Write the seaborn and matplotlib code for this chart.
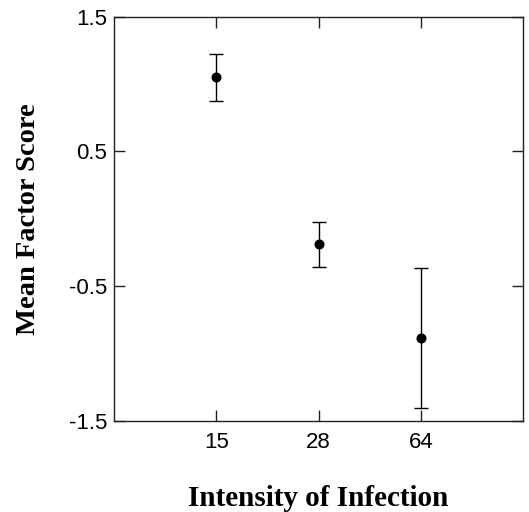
import matplotlib
matplotlib.use("Agg")
import matplotlib.pyplot as plt
import seaborn as sns
import pandas as pd

# --- data ---
intensity = ["15", "28", "64"]
mean_score = [1.05, -0.19, -0.885]
err_low = [0.175, 0.165, 0.515]
err_high = [0.175, 0.17, 0.52]

sns.set_style("ticks")
plt.rcParams["font.family"] = ["Liberation Sans", "DejaVu Sans"]
plt.rcParams["text.color"] = "black"

df = pd.DataFrame({"intensity": intensity, "score": mean_score})

fig = plt.figure(figsize=(5.29, 5.12), dpi=100)
ax = fig.add_axes([0.2155, 0.1777, 0.7732, 0.7897])

# points + error bars
sns.pointplot(data=df, x="intensity", y="score", order=intensity,
              linestyle="none", errorbar=None, color="black",
              markersize=5.2, ax=ax)
ax.errorbar(range(len(intensity)), mean_score, yerr=[err_low, err_high],
            fmt="none", ecolor="black", elinewidth=1.0, capsize=5, capthick=1.0)

ax.set_xlim(-1, 3)
ax.set_ylim(-1.5, 1.5)
ax.set_yticks([-1.5, -0.5, 0.5, 1.5])
ax.set_yticklabels(["-1.5", "-0.5", "0.5", "1.5"])

for s in ax.spines.values():
    s.set_visible(True)
    s.set_linewidth(1.0)
    s.set_color("#222222")

ax.tick_params(direction="in", length=8, width=1.0, color="#222222",
               top=True, right=True, labelsize=16, labelcolor="black")
ax.tick_params(axis="x", pad=8)
ax.tick_params(axis="y", pad=5)

serif = ["Liberation Serif", "DejaVu Serif"]
ax.set_xlabel("Intensity of Infection", family=serif, color="black",
              fontsize=21, fontweight="bold", labelpad=23)
ax.set_ylabel("Mean Factor Score", family=serif, color="black",
              fontsize=20.5, fontweight="bold", labelpad=20)

fig.savefig("out.png", dpi=100)
